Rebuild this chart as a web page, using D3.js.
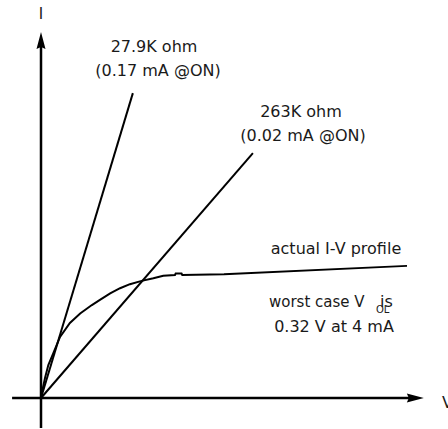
<!DOCTYPE html>
<html>
<head>
<meta charset="utf-8">
<script src="https://cdn.jsdelivr.net/npm/d3@7"></script>
<style>
  body { margin: 0; background: #fff; }
  text { font-family: "DejaVu Sans", Verdana, sans-serif; fill: #1a1a1a; }
</style>
</head>
<body>
<div id="chart"></div>
<script>
// I-V sketch: measured profile vs. two resistor load lines

// actual I-V profile (V, I in arbitrary sketch units)
var profileV = [0, 0.05, 0.11, 0.2, 0.34, 0.52, 0.79, 1.07, 1.39, 1.61, 1.89, 2.16, 2.43, 2.75, 3.07, 3.34, 3.66, 3.68, 3.84, 3.86, 5.0, 10.0];
var profileI = [0, 0.27, 0.55, 0.9, 1.23, 1.67, 2.05, 2.31, 2.54, 2.68, 2.86, 3.00, 3.11, 3.20, 3.27, 3.34, 3.36, 3.40, 3.40, 3.36, 3.38, 3.61];

// resistor load lines from the origin
var resistors = ["27.9K ohm", "263K ohm"];
var resistorNotes = ["(0.17 mA @ON)", "(0.02 mA @ON)"];
var lineEndV = [2.51, 5.79];
var lineEndI = [8.33, 6.69];

var width = 448, height = 429;

var svg = d3.select("#chart").append("svg")
    .attr("width", width)
    .attr("height", height);

// scales
var x = d3.scaleLinear().domain([0, 10]).range([41, 407]);
var y = d3.scaleLinear().domain([0, 10]).range([398, 32]);

// axes
svg.append("line")
    .attr("x1", x(-0.79)).attr("y1", y(0))
    .attr("x2", x(10.1)).attr("y2", y(0))
    .attr("stroke", "#000").attr("stroke-width", 2.5);

svg.append("line")
    .attr("x1", x(0)).attr("y1", y(-0.82))
    .attr("x2", x(0)).attr("y2", y(9.6))
    .attr("stroke", "#000").attr("stroke-width", 2.5);

// arrow heads
var ax = x(10.46), ay = y(0);
svg.append("path")
    .attr("d", "M" + ax + "," + ay + " L" + (ax - 17) + "," + (ay - 4.5) + " L" + (ax - 15) + "," + ay + " L" + (ax - 17) + "," + (ay + 4.5) + " Z")
    .attr("fill", "#000");

var bx = x(0), by = y(10);
svg.append("path")
    .attr("d", "M" + bx + "," + by + " L" + (bx - 4.5) + "," + (by + 17) + " L" + bx + "," + (by + 15) + " L" + (bx + 4.5) + "," + (by + 17) + " Z")
    .attr("fill", "#000");

// axis labels
svg.append("text").attr("x", 41).attr("y", 19)
    .attr("text-anchor", "middle").attr("font-size", "15px").text("I");
svg.append("text").attr("x", 442).attr("y", 408)
    .attr("font-size", "16px").text("V");

// resistor lines
resistors.forEach(function (r, i) {
    svg.append("line")
        .attr("x1", x(0)).attr("y1", y(0))
        .attr("x2", x(lineEndV[i])).attr("y2", y(lineEndI[i]))
        .attr("stroke", "#000").attr("stroke-width", 2);
});

// profile curve
var profile = profileV.map(function (v, i) { return [v, profileI[i]]; });
var line = d3.line()
    .x(function (d) { return x(d[0]); })
    .y(function (d) { return y(d[1]); });

svg.append("path")
    .datum(profile)
    .attr("d", line)
    .attr("fill", "none")
    .attr("stroke", "#000")
    .attr("stroke-width", 2);

// annotations
var labelX = [154, 301];
var labelY = [52, 117];
resistors.forEach(function (r, i) {
    svg.append("text").attr("x", labelX[i]).attr("y", labelY[i])
        .attr("text-anchor", "middle").attr("font-size", "16px").text(r);
    svg.append("text").attr("x", labelX[i] + 4 - i * 2).attr("y", labelY[i] + 24)
        .attr("text-anchor", "middle").attr("font-size", "16px").text(resistorNotes[i]);
});

svg.append("text").attr("x", 336).attr("y", 254)
    .attr("text-anchor", "middle").attr("font-size", "16px").text("actual I-V profile");

svg.append("text").attr("x", 269).attr("y", 307)
    .attr("font-size", "15px").text("worst case V");
svg.append("text").attr("x", 376).attr("y", 313)
    .attr("font-size", "10px").text("OL");
svg.append("text").attr("x", 380).attr("y", 307)
    .attr("font-size", "16px").text("is");

svg.append("text").attr("x", 334).attr("y", 332)
    .attr("text-anchor", "middle").attr("font-size", "16px").text("0.32 V at 4 mA");
</script>
</body>
</html>
